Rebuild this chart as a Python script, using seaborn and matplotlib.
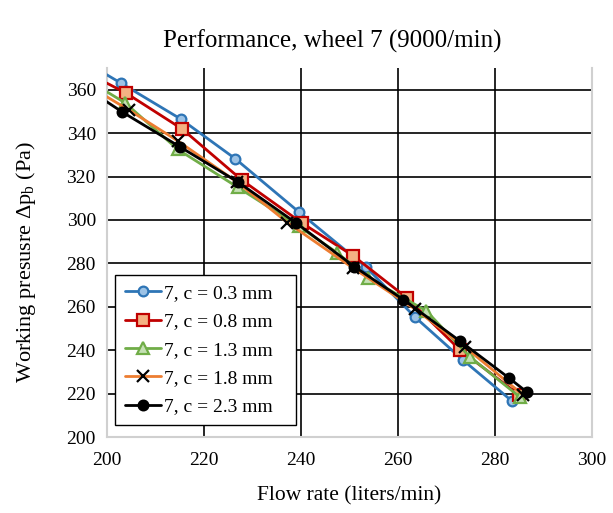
import matplotlib
matplotlib.use('Agg')
import matplotlib.pyplot as plt
import seaborn as sns
import pandas as pd

# flow rate (liters/min) and working pressure (Pa) per clearance c
# (first point of each series lies left of the visible range, the chart clips it)
x_03 = [190.0, 202.9, 215.2, 226.4, 239.5, 253.4, 263.5, 273.4, 283.5]
y_03 = [380.0, 363.0, 346.5, 328.3, 303.8, 278.3, 255.3, 235.5, 216.6]

x_08 = [190.0, 203.9, 215.5, 227.8, 240.2, 250.7, 261.8, 272.8, 285.0]
y_08 = [374.5, 358.5, 341.9, 318.4, 298.6, 283.6, 264.2, 240.1, 219.4]

x_13 = [190.0, 203.7, 214.6, 227.0, 239.6, 247.4, 253.8, 265.8, 274.8, 285.2]
y_13 = [372.5, 354.0, 332.5, 315.0, 297.0, 285.0, 273.4, 258.2, 237.0, 218.3]

x_18 = [190.0, 204.5, 214.6, 226.8, 237.2, 250.7, 263.5, 273.8, 285.8]
y_18 = [370.0, 350.7, 336.4, 317.5, 298.8, 277.9, 259.0, 241.5, 219.4]

x_23 = [190.0, 203.1, 215.1, 227.0, 239.0, 251.0, 261.1, 272.8, 282.9, 286.6]
y_23 = [369.2, 349.8, 333.6, 317.5, 298.6, 278.5, 263.3, 244.2, 227.2, 220.7]

labels = ['7, c = 0.3 mm', '7, c = 0.8 mm', '7, c = 1.3 mm', '7, c = 1.8 mm', '7, c = 2.3 mm']
xs = [x_03, x_08, x_13, x_18, x_23]
ys = [y_03, y_08, y_13, y_18, y_23]

line_colors = ['#2E75B6', '#C00000', '#70AD47', '#ED7D31', '#000000']
face_colors = ['#9DC3E6', '#F4B183', '#C5E0B4', '#000000', '#000000']
edge_colors = ['#2E75B6', '#C00000', '#70AD47', '#000000', '#000000']
markers = ['o', 's', '^', 'x', 'o']
msizes = [7, 8, 8, 9, 7]

sns.set_style('white')
plt.rcParams['font.family'] = ['Liberation Serif', 'DejaVu Serif']
plt.rcParams['mathtext.fontset'] = 'custom'
plt.rcParams['mathtext.rm'] = 'Liberation Serif'
plt.rcParams['mathtext.it'] = 'Liberation Serif:italic'
plt.rcParams['text.color'] = 'black'
plt.rcParams['axes.labelcolor'] = 'black'
plt.rcParams['xtick.color'] = 'black'
plt.rcParams['ytick.color'] = 'black'

frames = []
for lab, x, y in zip(labels, xs, ys):
    frames.append(pd.DataFrame({'flow': x, 'pressure': y, 'series': lab}))
df = pd.concat(frames, ignore_index=True)

fig = plt.figure(figsize=(6.13, 5.13), dpi=100)
ax = fig.add_axes([0.1746, 0.148, 0.7911, 0.7194])

for i, lab in enumerate(labels):
    sub = df[df['series'] == lab]
    sns.lineplot(data=sub, x='flow', y='pressure', sort=False, ax=ax,
                 color=line_colors[i], linewidth=2.0, marker=markers[i],
                 markersize=msizes[i], markerfacecolor=face_colors[i],
                 markeredgecolor=edge_colors[i], markeredgewidth=1.6,
                 label=lab, zorder=3 + i)

ax.set_xlim(200, 300)
ax.set_ylim(200, 370)
ax.set_xticks(range(200, 301, 20))
ax.set_yticks(range(200, 361, 20))
ax.grid(True, color='black', linewidth=1.2)
ax.set_axisbelow(True)
ax.tick_params(axis='both', labelsize=14, length=0)
ax.tick_params(axis='x', pad=11)
ax.tick_params(axis='y', pad=8)

for side in ['left', 'bottom', 'right']:
    ax.spines[side].set_color('#d0d0d0')
    ax.spines[side].set_linewidth(1.5)
ax.spines['top'].set_visible(False)

ax.set_xlabel('Flow rate (liters/min)', fontsize=15.5, labelpad=12)
ax.set_ylabel('Working presusre \u0394p$_\\mathregular{b}$ (Pa)', fontsize=16)
ax.yaxis.set_label_coords(-0.143, 0.474)
ax.set_title('Performance, wheel 7 (9000/min)', fontsize=18, pad=15, x=0.464)

leg = ax.legend(loc='lower left', bbox_to_anchor=(0.0165, 0.0325, 0.373, 0.4),
                mode='expand', fontsize=14, frameon=True, fancybox=False,
                handlelength=1.85, handletextpad=0.15, borderpad=0.5,
                labelspacing=0.55, borderaxespad=0)
leg.get_frame().set_edgecolor('black')
leg.get_frame().set_linewidth(1.0)
leg.get_frame().set_alpha(1)

fig.savefig('out.png', dpi=100)
